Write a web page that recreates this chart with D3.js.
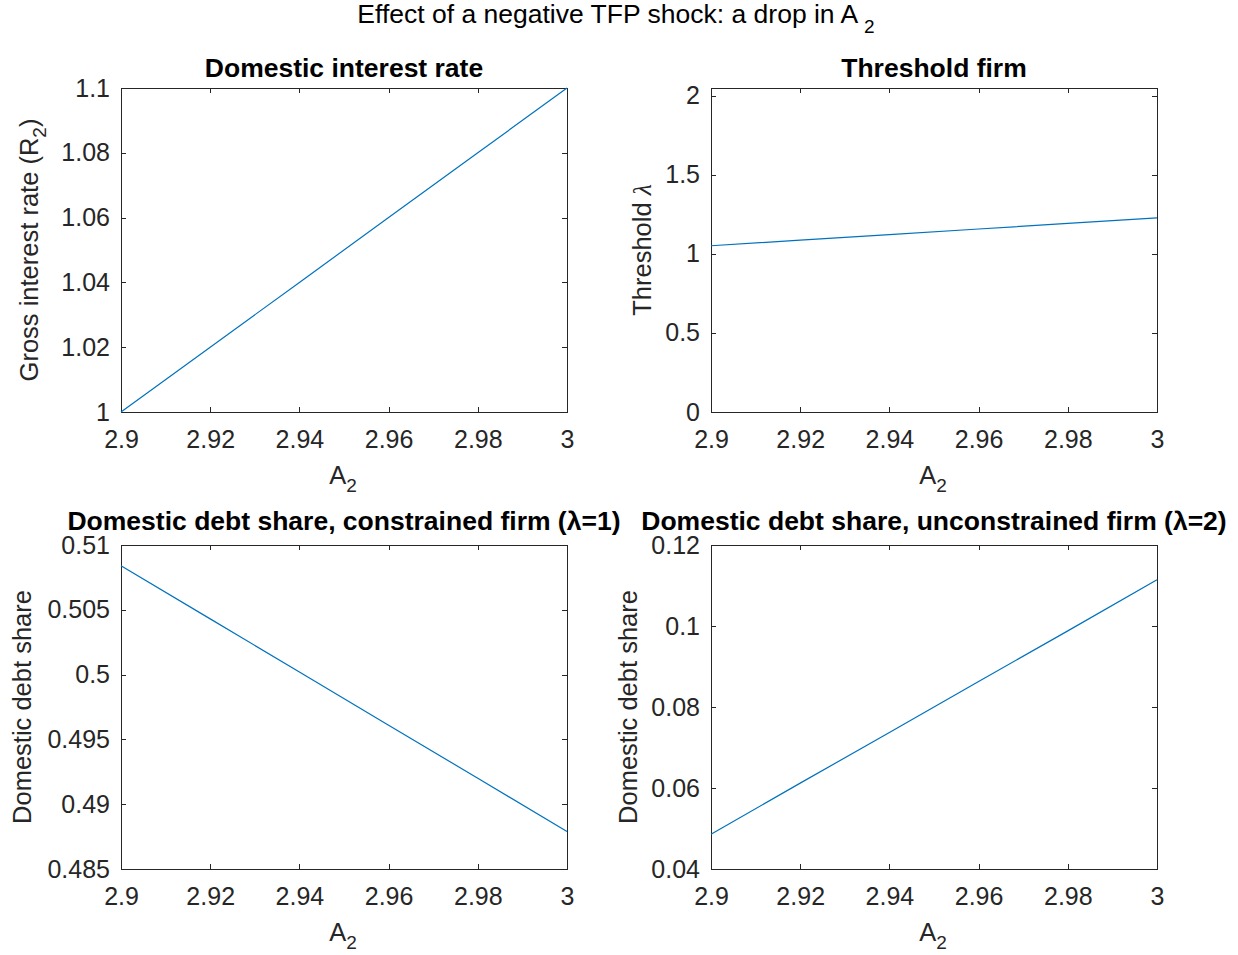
<html>
<head>
<script src="https://cdn.jsdelivr.net/npm/d3@7/dist/d3.min.js"></script>
<style>
  body { margin: 0; background: #fff; }
  svg { font-family: "Liberation Sans", Arial, Helvetica, sans-serif; }
  .axis path, .axis line { fill: none; stroke: #262626; stroke-width: 1; shape-rendering: crispEdges; }
  .axis text { font-size: 25px; fill: #262626; font-family: "Liberation Sans", Arial, sans-serif; }
  .lbl { font-size: 25.5px; fill: #262626; }
  .ttl { font-size: 26.5px; font-weight: bold; fill: #000; }
</style>
</head>
<body>
<svg width="1238" height="955"></svg>
<script>
// values
var a2 = [2.9, 2.92, 2.94, 2.96, 2.98, 3.0];
var grossRate = [1.0, 1.02, 1.04, 1.06, 1.08, 1.1];
var threshold = [1.052, 1.087, 1.122, 1.158, 1.193, 1.228];
var debtConstrained = [0.5084, 0.5043, 0.5002, 0.4961, 0.4920, 0.4879];
var debtUnconstrained = [0.0486, 0.0612, 0.0737, 0.0863, 0.0988, 0.1114];

var xTicks = [2.9, 2.92, 2.94, 2.96, 2.98, 3];
var xTickLabels = ["2.9", "2.92", "2.94", "2.96", "2.98", "3"];
var rateTicks = [1, 1.02, 1.04, 1.06, 1.08, 1.1];
var rateTickLabels = ["1", "1.02", "1.04", "1.06", "1.08", "1.1"];
var thrTicks = [0, 0.5, 1, 1.5, 2];
var thrTickLabels = ["0", "0.5", "1", "1.5", "2"];
var conTicks = [0.485, 0.49, 0.495, 0.5, 0.505, 0.51];
var conTickLabels = ["0.485", "0.49", "0.495", "0.5", "0.505", "0.51"];
var uncTicks = [0.04, 0.06, 0.08, 0.1, 0.12];
var uncTickLabels = ["0.04", "0.06", "0.08", "0.1", "0.12"];

var svg = d3.select("svg");
var lineColor = "#0072BD";

var panels = [
  { left: 121, right: 567, top: 88, bottom: 412, yDomain: [1, 1.1], values: grossRate,
    yTicks: rateTicks, yLabels: rateTickLabels, title: ["Domestic interest rate"], titleY: 77,
    yTitle: "rate", yTitleX: 38 },
  { left: 711, right: 1157, top: 88, bottom: 412, yDomain: [0, 2.05], values: threshold,
    yTicks: thrTicks, yLabels: thrTickLabels, title: ["Threshold firm"], titleY: 77,
    yTitle: "thr", yTitleX: 651 },
  { left: 121, right: 567, top: 545, bottom: 869, yDomain: [0.485, 0.51], values: debtConstrained,
    yTicks: conTicks, yLabels: conTickLabels, title: ["Domestic debt share, constrained firm (", "λ", "=1)"], titleY: 530,
    yTitle: "debt", yTitleX: 31 },
  { left: 711, right: 1157, top: 545, bottom: 869, yDomain: [0.04, 0.12], values: debtUnconstrained,
    yTicks: uncTicks, yLabels: uncTickLabels, title: ["Domestic debt share, unconstrained firm (", "λ", "=2)"], titleY: 530,
    yTitle: "debt", yTitleX: 637 }
];

// main title
var mt = svg.append("text").attr("x", 616).attr("y", 23)
  .attr("text-anchor", "middle").style("font-size", "26.5px").style("fill", "#000");
mt.append("tspan").text("Effect of a negative TFP shock: a drop in A ");
mt.append("tspan").attr("dy", 10).style("font-size", "19px").text("2");

panels.forEach(function (p) {
  var x = d3.scaleLinear().domain([2.9, 3]).range([p.left, p.right]);
  var y = d3.scaleLinear().domain(p.yDomain).range([p.bottom, p.top]);

  svg.append("g").attr("class", "axis")
    .attr("transform", "translate(0," + p.bottom + ")")
    .call(d3.axisBottom(x).tickValues(xTicks)
      .tickFormat(function (d, i) { return xTickLabels[i]; })
      .tickSizeInner(-5).tickSizeOuter(0).tickPadding(18));

  svg.append("g").attr("class", "axis")
    .attr("transform", "translate(0," + p.top + ")")
    .call(d3.axisTop(x).tickValues(xTicks).tickFormat("")
      .tickSizeInner(-5).tickSizeOuter(0));

  svg.append("g").attr("class", "axis")
    .attr("transform", "translate(" + p.left + ",0)")
    .call(d3.axisLeft(y).tickValues(p.yTicks)
      .tickFormat(function (d, i) { return p.yLabels[i]; })
      .tickSizeInner(-5).tickSizeOuter(0).tickPadding(11));

  svg.append("g").attr("class", "axis")
    .attr("transform", "translate(" + p.right + ",0)")
    .call(d3.axisRight(y).tickValues(p.yTicks).tickFormat("")
      .tickSizeInner(-5).tickSizeOuter(0));

  var line = d3.line()
    .x(function (d, i) { return x(a2[i]); })
    .y(function (d) { return y(d); });

  svg.append("path").datum(p.values)
    .attr("d", line)
    .attr("fill", "none")
    .attr("stroke", lineColor)
    .attr("stroke-width", 1.2);

  // panel title
  var cx = (p.left + p.right) / 2;
  var t = svg.append("text").attr("class", "ttl").attr("x", cx).attr("y", p.titleY)
    .attr("text-anchor", "middle");
  p.title.forEach(function (s) { t.append("tspan").text(s); });

  // x label
  var xl = svg.append("text").attr("class", "lbl").attr("x", cx - 1).attr("y", p.bottom + 72)
    .attr("text-anchor", "middle");
  xl.append("tspan").text("A");
  xl.append("tspan").attr("dy", 8).style("font-size", "19px").text("2");

  // y label
  var cy = (p.top + p.bottom) / 2;
  var yl = svg.append("text").attr("class", "lbl")
    .attr("transform", "translate(" + p.yTitleX + "," + cy + ") rotate(-90)")
    .attr("text-anchor", "middle");
  if (p.yTitle == "rate") {
    yl.append("tspan").text("Gross interest rate (R");
    yl.append("tspan").attr("dy", 8).style("font-size", "19px").text("2");
    yl.append("tspan").attr("dy", -8).text(")");
  } else if (p.yTitle == "thr") {
    yl.append("tspan").text("Threshold ");
    yl.append("tspan").style("font-family", "'Liberation Serif', serif").style("font-style", "italic").text("λ");
  } else {
    yl.text("Domestic debt share");
  }
});
</script>
</body>
</html>
